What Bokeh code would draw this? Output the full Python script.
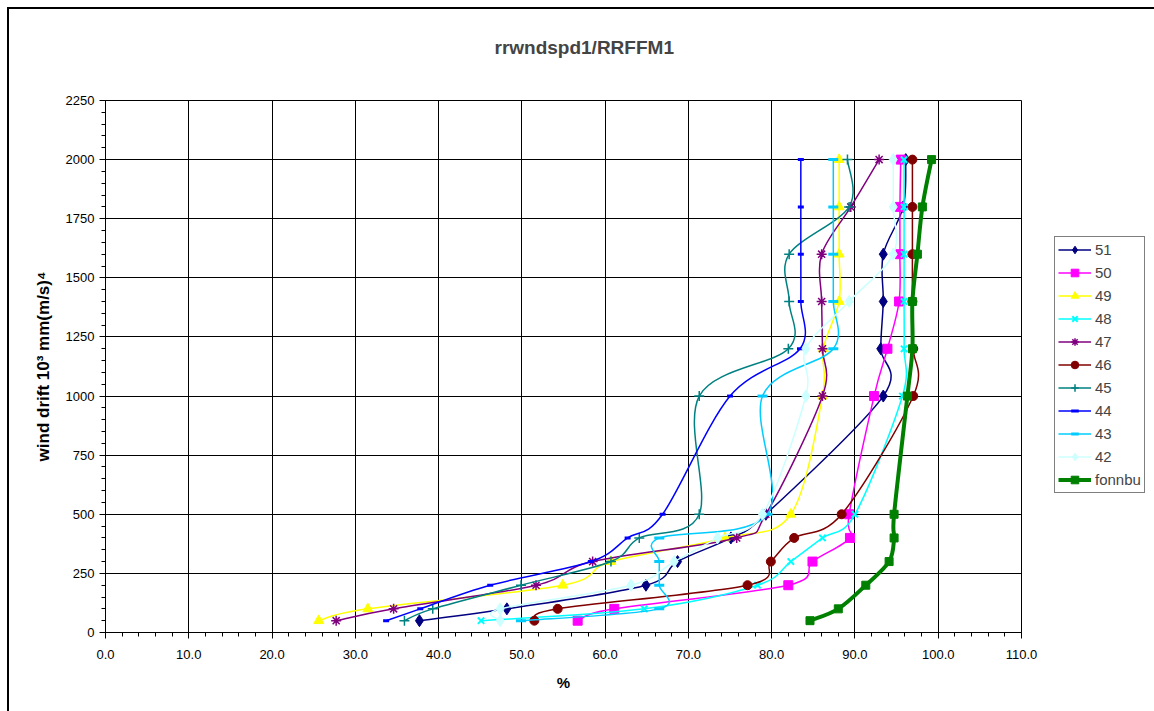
import numpy as np
from bokeh.plotting import figure
from bokeh.layouts import row
from bokeh.models import (ColumnDataSource, Legend, LegendItem, SingleIntervalTicker,
                          PrintfTickFormatter, Range1d, Title)
from bokeh.embed import file_html
from bokeh.resources import INLINE

# ---------------- data ----------------
levels = [50, 100, 200, 300, 400, 500, 1000, 1200, 1400, 1600, 1800, 2000]

s51 = [37.7, 48.2, 64.9, 68.7, 75.1, 79.3, 93.4, 93.1, 93.4, 93.4, 95.8, 96.1]
s50 = [56.7, 61.1, 82.0, 84.9, 89.4, 89.3, 92.3, 93.9, 95.3, 95.4, 95.4, 95.5]
s49 = [25.6, 31.5, 54.9, 60.7, 74.4, 82.3, 86.1, 86.2, 88.1, 88.1, 88.1, 88.1]
s48 = [45.1, 64.7, 78.3, 82.3, 86.1, 90.0, 95.7, 95.9, 95.9, 95.9, 95.9, 95.9]
s47 = [27.7, 34.6, 51.7, 58.5, 75.8, 79.3, 86.1, 86.1, 86.0, 86.0, 89.5, 92.9]
s46 = [51.5, 54.3, 77.1, 79.9, 82.7, 88.4, 97.0, 97.0, 96.9, 96.9, 96.9, 96.9]
s45 = [35.9, 39.3, 49.9, 60.7, 64.1, 71.3, 71.3, 82.0, 82.1, 82.1, 89.3, 89.1]
s44 = [33.7, 37.8, 46.2, 58.3, 62.7, 66.9, 75.0, 83.4, 83.5, 83.5, 83.5, 83.5]
s43 = [49.9, 66.5, 66.5, 66.5, 66.5, 79.5, 78.9, 87.4, 87.4, 87.4, 87.4, 87.4]
s42 = [47.4, 47.4, 63.1, 68.3, 73.5, 78.9, 84.1, 84.1, 89.3, 94.6, 94.6, 94.6]
fonnbu = [84.6, 88.0, 91.3, 94.1, 94.7, 94.7, 96.3, 96.9, 96.9, 97.5, 98.1, 99.2]

names = ["51", "50", "49", "48", "47", "46", "45", "44", "43", "42", "fonnbu"]
values = [s51, s50, s49, s48, s47, s46, s45, s44, s43, s42, fonnbu]

# ---------------- styles ----------------
colors = ["#000080", "#FF00FF", "#FFFF00", "#00FFFF", "#800080", "#800000",
          "#008080", "#0000FF", "#00CCFF", "#CCFFFF", "#008000"]
markers = ["diamond", "square", "triangle", "x", "asterisk", "circle",
           "cross", "dash", "dash", "diamond", "square"]
msizes = [12, 9, 10, 9, 10, 9, 10, 6, 10, 12, 8]
mlw = [1, 1, 1, 2, 1.5, 1, 1.5, 3, 3, 1, 1]
lwidths = [1.5, 1.5, 1.5, 1.5, 1.5, 1.5, 1.5, 1.5, 1.5, 1.5, 4]

FONT = "Liberation Sans"


def bezier_source(xs, ys):
    x = np.asarray(xs, float)
    y = np.asarray(ys, float)
    n = len(x)
    xp = np.concatenate([[x[0]], x, [x[-1]]])
    yp = np.concatenate([[y[0]], y, [y[-1]]])
    cx0 = x[:-1] + (xp[2:n + 1] - xp[0:n - 1]) / 6.0
    cy0 = y[:-1] + (yp[2:n + 1] - yp[0:n - 1]) / 6.0
    cx1 = x[1:] - (xp[3:n + 2] - xp[1:n]) / 6.0
    cy1 = y[1:] - (yp[3:n + 2] - yp[1:n]) / 6.0
    return ColumnDataSource(dict(x0=x[:-1], y0=y[:-1], x1=x[1:], y1=y[1:],
                                 cx0=cx0, cy0=cy0, cx1=cx1, cy1=cy1))


# ---------------- main plot ----------------
p = figure(width=1032, height=702, x_range=Range1d(0, 110), y_range=Range1d(0, 2250),
           output_backend="svg", toolbar_location=None, title=None,
           min_border_left=96, min_border_right=20, min_border_top=91, min_border_bottom=79)

spacer = Title(text=" ", text_font=FONT, text_font_size="28px", standoff=2)
p.add_layout(spacer, "above")
main_title = Title(text="rrwndspd1/RRFFM1", align="left", offset=389, standoff=16,
                   text_font=FONT, text_font_size="19px", text_font_style="bold")
p.add_layout(main_title, "above")

p.background_fill_color = "white"
p.border_fill_color = "white"
p.outline_line_color = "black"
p.outline_line_width = 1

p.xaxis.ticker = SingleIntervalTicker(interval=10, num_minor_ticks=5)
p.yaxis.ticker = SingleIntervalTicker(interval=250, num_minor_ticks=5)
p.xaxis.formatter = PrintfTickFormatter(format="%.1f")

for ax in (p.xaxis, p.yaxis):
    ax.axis_line_color = "black"
    ax.major_tick_line_color = "black"
    ax.minor_tick_line_color = "black"
    ax.major_tick_out = 6
    ax.major_tick_in = 0
    ax.minor_tick_out = 4
    ax.minor_tick_in = 0
    ax.major_label_text_font = FONT
    ax.major_label_text_font_size = "13px"
    ax.major_label_text_color = "black"
    ax.axis_label_text_font = FONT
    ax.axis_label_text_font_style = "bold"
    ax.axis_label_text_color = "black"

p.xaxis.axis_label_text_font_size = "15px"
p.yaxis.axis_label_text_font_size = "17px"
p.xaxis.major_label_standoff = 11
p.xaxis.axis_label_standoff = 12
p.yaxis.major_label_standoff = 5
p.yaxis.axis_label_standoff = 10
p.xaxis.axis_label = "%"
p.yaxis.axis_label = "wind drift 10³ mm(m/s)⁴"

p.xgrid.grid_line_color = "black"
p.ygrid.grid_line_color = "black"
p.xgrid.grid_line_width = 1
p.ygrid.grid_line_width = 1

# ---------------- legend panel (second figure at the right) ----------------
pl = figure(width=113, height=702, x_range=Range1d(-10, -9), y_range=Range1d(-10, -9),
            output_backend="svg", toolbar_location=None, title=None,
            x_axis_type=None, y_axis_type=None,
            min_border_left=0, min_border_right=0, min_border_top=0, min_border_bottom=0)
pl.outline_line_color = None
pl.background_fill_color = "white"
pl.border_fill_color = "white"

items = []
for name, vals, c, m, ms, mw, lw in zip(names, values, colors, markers, msizes, mlw, lwidths):
    src = bezier_source(vals, levels)
    pts = ColumnDataSource(dict(x=vals, y=levels))
    bez = dict(x0="x0", y0="y0", x1="x1", y1="y1", cx0="cx0", cy0="cy0",
               cx1="cx1", cy1="cy1", line_color=c, line_width=lw)
    sc = dict(marker=m, size=ms, fill_color=c, line_color=c, line_width=mw)
    p.bezier(source=src, **bez)
    p.scatter(x="x", y="y", source=pts, **sc)
    lb = pl.bezier(source=src, **bez)
    ls = pl.scatter(x="x", y="y", source=pts, **sc)
    items.append(LegendItem(label=name, renderers=[lb, ls]))

legend = Legend(items=items, location=(13, 139))
legend.border_line_color = "black"
legend.border_line_width = 1
legend.background_fill_color = "white"
legend.background_fill_alpha = 1
legend.padding = 3
legend.margin = 0
legend.spacing = 4
legend.glyph_width = 33
legend.glyph_height = 19
legend.label_height = 19
legend.label_standoff = 4
legend.label_text_font = FONT
legend.label_text_font_size = "15px"
pl.add_layout(legend)

layout = row(p, pl)
layout.styles = {"margin-left": "7px", "margin-top": "7px",
                 "border-left": "2px solid black", "border-top": "2px solid black"}

open("out.html", "w").write(file_html(layout, INLINE))
